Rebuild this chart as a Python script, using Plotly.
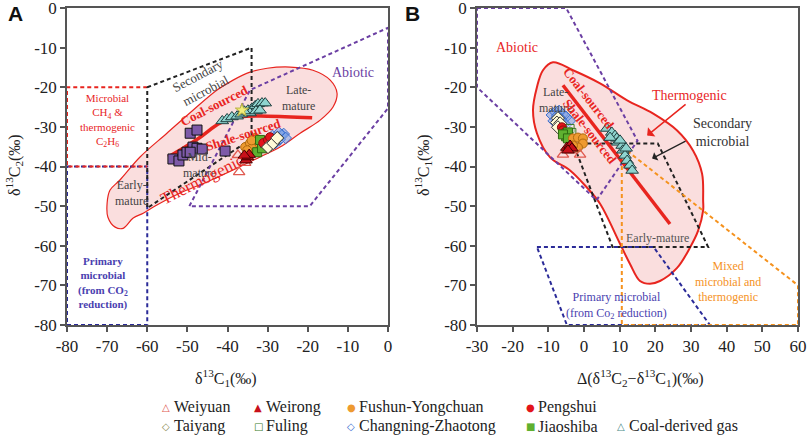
import plotly.graph_objects as go

W, H = 809, 437
SERIF = "Liberation Serif, Times New Roman, serif"

# ---------------- data: panel A (d13C1, d13C2) ----------------
weiyuan_A_c1 = [-37.4, -37.1, -35.1, -35.6]
weiyuan_A_c2 = [-37.1, -41.4, -37.6, -39.1]
weirong_A_c1 = [-35.4, -35.0, -34.6, -35.8]
weirong_A_c2 = [-38.4, -37.6, -37.0, -37.2]
fushun_A_c1 = [-35.6, -34.4, -33.1, -32.6, -33.9, -35.1, -34.0]
fushun_A_c2 = [-35.1, -34.1, -32.8, -34.6, -35.4, -35.9, -33.4]
pengshui_A_c1 = [-31.1, -29.9, -29.4]
pengshui_A_c2 = [-34.1, -33.3, -32.6]
jiaoshiba_A_c1 = [-32.6, -31.4, -30.6, -31.9]
jiaoshiba_A_c2 = [-36.4, -35.4, -34.1, -33.3]
fuling_A_c1 = [-30.0, -29.0]
fuling_A_c2 = [-35.0, -34.0]
changning_A_c1 = [-29.5, -28.5, -27.5, -26.5, -26.0, -27.0, -28.0, -25.5, -27.2, -28.8]
changning_A_c2 = [-33.5, -33.0, -32.5, -32.0, -31.8, -33.2, -34.0, -32.8, -31.5, -32.3]
taiyang_A_c1 = [-29.9, -28.6, -27.6]
taiyang_A_c2 = [-35.1, -34.1, -32.8]
coal_A_c1 = [-41.3, -40.1, -38.9, -37.6, -36.6, -35.6, -34.9, -33.9, -33.1, -32.4, -31.4, -30.6, -34.4, -32.9, -31.9, -35.9]
coal_A_c2 = [-28.5, -28.0, -27.5, -27.3, -26.8, -26.3, -25.8, -25.3, -24.7, -24.2, -24.0, -24.0, -26.5, -26.0, -25.8, -26.0]
other_A_c1 = [-53.6, -52.1, -51.1, -50.1, -48.6, -47.6, -46.3, -49.3, -40.6, -49.3, -47.6]
other_A_c2 = [-38.1, -38.6, -37.1, -36.4, -35.1, -35.4, -35.6, -36.4, -36.1, -31.6, -30.8]
star_A_c1 = [-36.4]
star_A_c2 = [-25.8]

# ---------------- data: panel B (delta, d13C1) ----------------
taiyang_B_d = [-7.3, -7.6, -6.7, -7.3]
taiyang_B_c1 = [-27.8, -28.9, -29.1, -30.1]
changning_B_d = [-9.0, -8.0, -7.0, -6.0, -5.0, -4.0, -8.5, -6.5, -5.5, -7.5]
changning_B_c1 = [-27.0, -26.3, -26.0, -26.8, -27.5, -28.5, -28.5, -28.0, -29.2, -27.2]
pengshui_B_d = [-6.2, -5.9, -5.3]
pengshui_B_c1 = [-30.1, -30.9, -31.4]
jiaoshiba_B_d = [-5.0, -4.5, -5.9, -4.5]
jiaoshiba_B_c1 = [-32.4, -31.4, -31.9, -32.9]
fuling_B_d = [-3.9, -3.4]
fuling_B_c1 = [-30.4, -31.4]
fushun_B_d = [-3.1, -1.7, -0.3, -0.3, -1.7, -3.1]
fushun_B_c1 = [-32.9, -32.7, -32.9, -34.2, -35.2, -34.7]
weirong_B_d = [-4.8, -3.9, -3.4, -4.5]
weirong_B_c1 = [-35.2, -34.7, -35.4, -35.9]
weiyuan_B_d = [-5.9, -1.1, -3.9]
weiyuan_B_c1 = [-37.0, -37.0, -35.9]
coal_B_d = [6.4, 7.8, 8.7, 9.2, 9.5, 10.7, 10.9, 11.5, 12.1, 12.9, 13.5, 7.3, 10.1, 11.8]
coal_B_c1 = [-30.4, -31.4, -32.2, -32.9, -33.9, -34.7, -35.9, -37.2, -38.5, -39.7, -41.0, -32.7, -33.4, -35.4]

# ---------------- region outlines ----------------
thermo_A_x = [-70.0, -69.3, -66.8, -61.8, -55.1, -48.6, -42.6, -38.6, -34.4, -30.1, -24.4, -18.7, -14.4, -12.7,
              -13.7, -16.9, -21.9, -26.9, -31.9, -38.6, -45.1, -51.8, -57.6, -61.0, -63.5, -66.0, -68.0, -69.8, -70.0]
thermo_A_y = [-49.2, -46.0, -43.4, -37.6, -31.6, -25.8, -20.7, -18.2, -16.2, -15.2, -14.9, -15.7, -18.2, -21.5,
              -25.0, -28.3, -31.6, -35.1, -37.6, -40.9, -43.9, -46.7, -49.7, -51.8, -53.0, -55.6, -55.3, -52.8, -49.2]
coal_line_A_x = [-54.8, -50.5, -46.8, -41.8, -36.9, -30.1, -18.9]
coal_line_A_y = [-37.6, -35.0, -32.6, -29.0, -27.5, -27.3, -27.7]
sec_A_x = [-60, -34, -34, -60, -60]
sec_A_y = [-20, -10, -33, -50.5, -20]
abiotic_A_x = [-49.5, -34.4, 0, 0, -19.5, -49.5]
abiotic_A_y = [-50, -20.7, -5, -25.3, -50, -50]
mixA_x = [-60, -80, -80, -60]
mixA_y = [-20, -20, -40, -40]
primA_x = [-80, -60, -60, -80, -80]
primA_y = [-40, -40, -80, -80, -40]

thermo_B_x = [-8.7, -3.1, 4.5, 12.1, 19.3, 26.1, 30.6, 33.1, 33.4, 33.4, 32.0, 29.7, 26.1, 21.3, 18.5, 15.7,
              12.9, 10.1, 4.5, 0.8, -3.9, -9.5, -13.2, -14.3, -13.2, -11.5, -8.7]
thermo_B_y = [-13.7, -15.7, -19.0, -23.3, -26.6, -30.9, -36.0, -41.8, -48.6, -51.1, -56.2, -60.5, -65.6, -68.9,
              -69.6, -68.9, -64.6, -59.5, -49.4, -45.3, -41.0, -37.7, -31.6, -25.8, -20.0, -15.7, -13.7]
coal_line_B_x = [-5.9, 24.1]
coal_line_B_y = [-19.5, -54.5]
abiotic_B_x = [-30, -5, 15, 3.5, -30, -30]
abiotic_B_y = [0, 0, -33.5, -48.5, -20, 0]
sec_B_x = [-3, 20.7, 34.8, 8, -3]
sec_B_y = [-34.2, -34.2, -60.3, -60.3, -34.2]
prim_B_x = [-13.2, 19.5, 35.3, -4.8, -13.2]
prim_B_y = [-60.3, -60.3, -80, -80, -60.3]
mix_B_x = [10.6, 60, 60, 10.6, 10.6]
mix_B_y = [-35, -70, -80, -80, -35]

tickA_x = [-80, -70, -60, -50, -40, -30, -20, -10, 0]
tickB_x = [-30, -20, -10, 0, 10, 20, 30, 40, 50, 60]
tick_y = [0, -10, -20, -30, -40, -50, -60, -70, -80]

legend_names = ["Weiyuan", "Weirong", "Fushun-Yongchuan", "Pengshui",
                "Taiyang", "Fuling", "Changning-Zhaotong", "Jiaoshiba", "Coal-derived gas"]

# ---------------- styles ----------------
RED = "#e8251f"
PURPLE = "#6b3fa3"
NAVY = "#2b2b98"
BLACK = "#222222"
ORANGE = "#f5921e"
DASH = "4px,3px"

fig = go.Figure()

def poly(x, y, color, xa, ya, width=2.0, dash=DASH, fill=None, fillcolor=None, shape="linear"):
    fig.add_trace(go.Scatter(x=x, y=y, mode="lines", xaxis=xa, yaxis=ya,
                             line=dict(color=color, width=width, dash=dash, shape=shape),
                             fill=fill, fillcolor=fillcolor, hoverinfo="skip", showlegend=False))

# panel A regions
poly(thermo_A_x, thermo_A_y, RED, "x", "y", width=1.2, dash="solid", fill="toself",
     fillcolor="rgba(246,200,200,0.6)", shape="spline")
poly(primA_x, primA_y, NAVY, "x", "y")
poly(mixA_x, mixA_y, RED, "x", "y")
poly(sec_A_x, sec_A_y, BLACK, "x", "y")
poly(abiotic_A_x, abiotic_A_y, PURPLE, "x", "y")
poly(coal_line_A_x, coal_line_A_y, RED, "x", "y", width=3.5, dash="solid", shape="spline")

# panel B regions
poly(thermo_B_x, thermo_B_y, RED, "x2", "y2", width=2.0, dash="solid", fill="toself",
     fillcolor="rgba(246,200,200,0.6)", shape="spline")
poly(abiotic_B_x, abiotic_B_y, PURPLE, "x2", "y2")
poly(sec_B_x, sec_B_y, BLACK, "x2", "y2")
poly(prim_B_x, prim_B_y, NAVY, "x2", "y2")
poly(mix_B_x, mix_B_y, ORANGE, "x2", "y2")
poly(coal_line_B_x, coal_line_B_y, RED, "x2", "y2", width=3.5, dash="solid")

def pts(x, y, xa, ya, symbol, fill, edge, size=9, lw=1):
    fig.add_trace(go.Scatter(x=x, y=y, mode="markers", xaxis=xa, yaxis=ya,
                             marker=dict(symbol=symbol, color=fill, size=size,
                                         line=dict(color=edge, width=lw)),
                             hoverinfo="skip", showlegend=False))

# panel A points
pts(other_A_c1, other_A_c2, "x", "y", "square", "#7d5aa8", "#111", size=10)
pts(coal_A_c1, coal_A_c2, "x", "y", "triangle-up", "#8fd4cf", "#1f3f3f", size=11)
pts(star_A_c1, star_A_c2, "x", "y", "star", "#f2ee7a", "#b8b040", size=10)
pts(changning_A_c1, changning_A_c2, "x", "y", "diamond", "rgba(120,160,230,0.55)", "#3a6fd0", size=9)
pts(fuling_A_c1, fuling_A_c2, "x", "y", "square", "rgba(255,255,255,0.3)", "#3a7a2a", size=8)
pts(fushun_A_c1, fushun_A_c2, "x", "y", "circle", "#ee9a30", "#b06a10", size=9)
pts(jiaoshiba_A_c1, jiaoshiba_A_c2, "x", "y", "square", "#5fb030", "#2d6a10", size=9)
pts(pengshui_A_c1, pengshui_A_c2, "x", "y", "circle", "#e3141b", "#901010", size=9)
pts(taiyang_A_c1, taiyang_A_c2, "x", "y", "diamond", "#fffbd8", "#333", size=10)
pts(weiyuan_A_c1, weiyuan_A_c2, "x", "y", "triangle-up-open", "#e05a50", "#e05a50", size=10, lw=1.3)
pts(weirong_A_c1, weirong_A_c2, "x", "y", "triangle-up", "#c8101a", "#400", size=11)

# panel B points
pts(changning_B_d, changning_B_c1, "x2", "y2", "diamond", "rgba(120,160,230,0.55)", "#3a6fd0", size=9)
pts(taiyang_B_d, taiyang_B_c1, "x2", "y2", "diamond", "#fffbd8", "#333", size=10)
pts(fuling_B_d, fuling_B_c1, "x2", "y2", "square", "rgba(255,255,255,0.3)", "#3a7a2a", size=8)
pts(pengshui_B_d, pengshui_B_c1, "x2", "y2", "circle", "#e3141b", "#901010", size=9)
pts(jiaoshiba_B_d, jiaoshiba_B_c1, "x2", "y2", "square", "#5fb030", "#2d6a10", size=9)
pts(fushun_B_d, fushun_B_c1, "x2", "y2", "circle", "#ee9a30", "#b06a10", size=9)
pts(coal_B_d, coal_B_c1, "x2", "y2", "triangle-up", "#8fd4cf", "#1f3f3f", size=11)
pts(weiyuan_B_d, weiyuan_B_c1, "x2", "y2", "triangle-up-open", "#e05a50", "#e05a50", size=10, lw=1.3)
pts(weirong_B_d, weirong_B_c1, "x2", "y2", "triangle-up", "#c8101a", "#400", size=11)

# ---------------- axes ----------------
def px_x(p):
    return p / W

def px_y(p):
    return 1 - p / H

axis_common = dict(showline=True, linecolor="#555", linewidth=1.5, mirror=True, ticks="outside",
                   ticklen=5, tickwidth=1.5, tickcolor="#555", showgrid=False, zeroline=False,
                   ticklabeloverflow="allow", automargin=False,
                   tickfont=dict(family=SERIF, size=17, color="#222"))

fig.update_layout(
    width=W, height=H, margin=dict(l=0, r=0, t=0, b=0, autoexpand=False),
    plot_bgcolor="white", paper_bgcolor="white", showlegend=False,
    xaxis=dict(domain=[px_x(67), px_x(388)], range=[-80, 0], anchor="y",
               tickvals=tickA_x, ticktext=[str(v) for v in tickA_x], **axis_common),
    yaxis=dict(domain=[px_y(325), px_y(8)], range=[-80, 0], anchor="x",
               tickvals=tick_y, ticktext=[str(v) for v in tick_y], **axis_common),
    xaxis2=dict(domain=[px_x(477), px_x(798)], range=[-30, 60], anchor="y2",
                tickvals=tickB_x, ticktext=[str(v) for v in tickB_x], **axis_common),
    yaxis2=dict(domain=[px_y(325), px_y(8)], range=[-80, 0], anchor="x2",
                tickvals=tick_y, ticktext=[str(v) for v in tick_y], **axis_common),
)

ann = []

def txt(x, y, t, xa, ya, color="#333", size=12, angle=0, bold=False, family=SERIF):
    if bold:
        t = "<b>" + t + "</b>"
    ann.append(dict(x=x, y=y, xref=xa, yref=ya, text=t, showarrow=False, textangle=angle,
                    font=dict(family=family, size=size, color=color), align="center"))

# panel A labels
txt(-46.4, -18.8, "Secondary<br>microbial", "x", "y", color="#444", size=13, angle=-28)
txt(-8.7, -16.4, "Abiotic", "x", "y", color=PURPLE, size=14)
txt(-22.4, -22.7, "Late-<br>mature", "x", "y", color="#444", size=12)
txt(-69.8, -28.5, "Microbial<br>CH<sub>4</sub> &<br>thermogenic<br>C<sub>2</sub>H<sub>6</sub>", "x", "y",
    color=RED, size=11)
txt(-43.3, -24.5, "Coal-sourced", "x", "y", color=RED, size=13, angle=-27, bold=True)
txt(-35.9, -31.8, "Shale-sourced", "x", "y", color=RED, size=13, angle=-18, bold=True)
txt(-47.1, -39.6, "Mid-<br>mature", "x", "y", color="#444", size=12)
txt(-64.0, -46.7, "Early-<br>mature", "x", "y", color="#444", size=12)
txt(-46.3, -43.4, "Thermogenic", "x", "y", color=RED, size=17, angle=-27)
txt(-71.0, -69.4, "<b>Primary<br>microbial<br>(from CO<sub>2</sub><br>reduction)</b>", "x", "y",
    color="#4a3fb0", size=11)

# panel B labels
txt(-18.8, -9.9, "Abiotic", "x2", "y2", color=RED, size=14)
txt(29.7, -22.0, "Thermogenic", "x2", "y2", color=RED, size=14)
txt(38.7, -31.4, "Secondary<br>microbial", "x2", "y2", color="#333", size=14)
txt(-8.1, -23.3, "Late-<br>mature", "x2", "y2", color="#444", size=12)
txt(1.4, -22.8, "Coal-sourced", "x2", "y2", color=RED, size=13, angle=52, bold=True)
txt(1.7, -31.1, "Shale-sourced", "x2", "y2", color=RED, size=13, angle=52, bold=True)
txt(20.7, -58.0, "Early-mature", "x2", "y2", color="#555", size=12)
txt(9.2, -75.2, "Primary microbial<br>(from Co<sub>2</sub> reduction)", "x2", "y2", color="#4a3fb0", size=12)
txt(40.4, -68.9, "Mixed<br>microbial and<br>thermogenic", "x2", "y2", color=ORANGE, size=12)

# arrows in B
ann.append(dict(x=17.7, y=-32.2, ax=28.9, ay=-24.0, xref="x2", yref="y2", axref="x2", ayref="y2",
                showarrow=True, arrowhead=1, arrowsize=1.3, arrowwidth=1.5, arrowcolor=RED, text=""))
ann.append(dict(x=19.1, y=-38.0, ax=28.9, ay=-33.4, xref="x2", yref="y2", axref="x2", ayref="y2",
                showarrow=True, arrowhead=1, arrowsize=1.3, arrowwidth=1.2, arrowcolor="#222", text=""))

def ptxt(px, py, t, size=15, color="#222", angle=0, family=SERIF, xanchor="center"):
    ann.append(dict(x=px_x(px), y=px_y(py), xref="paper", yref="paper", text=t, showarrow=False,
                    textangle=angle, xanchor=xanchor, yanchor="middle",
                    font=dict(family=family, size=size, color=color)))

# axis titles
ptxt(226, 378, "δ<sup>13</sup>C<sub>1</sub>(‰)", size=16)
ptxt(14, 165, "δ<sup>13</sup>C<sub>2</sub>(‰)", size=16, angle=-90)
ptxt(640, 378, "Δ(δ<sup>13</sup>C<sub>2</sub>−δ<sup>13</sup>C<sub>1</sub>)(‰)", size=16)
ptxt(423, 165, "δ<sup>13</sup>C<sub>1</sub>(‰)", size=16, angle=-90)

# panel letters
ptxt(16, 13, "<b>A</b>", size=21, color="#111", family="Liberation Sans, Arial, sans-serif")
ptxt(413, 13, "<b>B</b>", size=21, color="#111", family="Liberation Sans, Arial, sans-serif")

# legend
leg_sym = ["△", "▲", "●", "●", "◇", "□", "◇", "■", "△"]
leg_col = ["#e05a50", "#c8101a", "#ee9a30", "#e3141b", "#8a8a50", "#3a7a2a", "#3a6fd0", "#5fb030", "#4a8a88"]
leg_px = [166, 258, 351, 530, 166, 258, 351, 530, 621]
leg_py = [407, 407, 407, 407, 426, 426, 426, 426, 426]
for s, c, lx, ly, name in zip(leg_sym, leg_col, leg_px, leg_py, legend_names):
    ptxt(lx, ly, s, size=10, color=c, family="DejaVu Sans")
    ptxt(lx + 6, ly, name, size=16, color="#222", xanchor="left")

fig.update_layout(annotations=ann)
fig.write_html("out.html", config={"displayModeBar": False},
               post_script="document.body.style.margin='0px';")
